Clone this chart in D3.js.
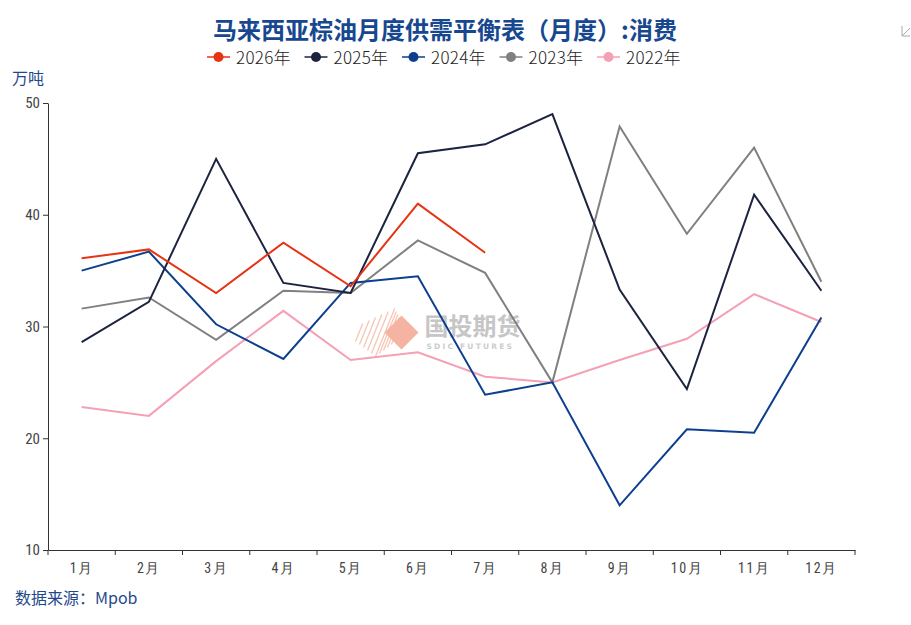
<!DOCTYPE html>
<html>
<head>
<meta charset="utf-8">
<script src="https://cdn.jsdelivr.net/npm/d3@7/dist/d3.min.js"></script>
<style>
  body { margin: 0; background: #fff; }
  svg { display: block; }
</style>
</head>
<body>
<div id="chart"></div>
<script>
// data
var months = ["1月", "2月", "3月", "4月", "5月", "6月", "7月", "8月", "9月", "10月", "11月", "12月"];
var yTicks = [10, 20, 30, 40, 50];

var y2026 = [36.1, 36.9, 33.0, 37.5, 33.6, 41.0, 36.6];
var y2025 = [28.6, 32.2, 45.0, 33.9, 33.0, 45.5, 46.3, 49.0, 33.3, 24.4, 41.8, 33.2];
var y2024 = [35.0, 36.7, 30.2, 27.1, 33.9, 34.5, 23.9, 25.0, 14.0, 20.8, 20.5, 30.8];
var y2023 = [31.6, 32.6, 28.8, 33.2, 33.0, 37.7, 34.8, 25.0, 47.9, 38.3, 46.0, 34.0];
var y2022 = [22.8, 22.0, 26.9, 31.4, 27.0, 27.7, 25.5, 25.0, 27.0, 28.9, 32.9, 30.4];

var seriesNames = ["2026年", "2025年", "2024年", "2023年", "2022年"];
var seriesColors = ["#e63312", "#1c2340", "#0d3f8f", "#808080", "#f4a0b5"];
var seriesValues = [y2026, y2025, y2024, y2023, y2022];

var W = 911, H = 625;
var margin = {top: 103, right: 56, bottom: 75, left: 48},
    width = W - margin.left - margin.right,
    height = H - margin.top - margin.bottom;

var narrow = "'Liberation Sans Narrow', 'Roboto Condensed', 'DejaVu Sans Condensed', sans-serif";

var root = d3.select("#chart").append("svg")
    .attr("width", W)
    .attr("height", H);

// title
root.append("text")
    .attr("x", 445).attr("y", 39)
    .attr("text-anchor", "middle")
    .style("font-family", "'Noto Sans CJK SC', sans-serif")
    .style("font-weight", "bold")
    .style("font-size", "24px")
    .style("fill", "#17478f")
    .text("马来西亚棕油月度供需平衡表（月度）:消费");

// legend
var legend = root.append("g").attr("transform", "translate(207,57)");
seriesNames.forEach(function(name, i) {
    var g = legend.append("g").attr("transform", "translate(" + (i * 97.5) + ",0)");
    g.append("line").attr("x1", 0).attr("x2", 23).attr("y1", 0).attr("y2", 0)
        .attr("stroke", seriesColors[i]).attr("stroke-width", 1.5);
    g.append("circle").attr("cx", 11.5).attr("cy", 0).attr("r", 5).attr("fill", seriesColors[i]);
    g.append("text").attr("x", 29).attr("y", 7)
        .style("font-family", "'Noto Sans CJK SC', sans-serif")
        .style("font-weight", "300")
        .style("font-size", "17px")
        .style("fill", "#222")
        .style("letter-spacing", "0.3px")
        .text(name);
});

// unit
root.append("text")
    .attr("x", 12).attr("y", 84)
    .style("font-family", "'Noto Sans CJK SC', sans-serif")
    .style("font-size", "16px")
    .style("fill", "#1f4a8a")
    .text("万吨");

// source
root.append("text")
    .attr("x", 15).attr("y", 604)
    .style("font-family", "'Noto Sans CJK SC', sans-serif")
    .style("font-size", "16px")
    .style("fill", "#1f4a8a")
    .text("数据来源：Mpob");

var svg = root.append("g")
    .attr("transform", "translate(" + margin.left + "," + margin.top + ")");

var x = d3.scaleBand()
    .domain(months)
    .range([0, width]);

var y = d3.scaleLinear()
    .domain([10, 50])
    .range([height, 0]);

// watermark
var wm = svg.append("g").attr("transform", "translate(" + (width / 2 - 36) + "," + (y(30) + 6) + ")");
for (var k = 0; k < 11; k++) {
    var h = 9 + (k < 5 ? k : 10 - k) * 3;
    wm.append("line")
        .attr("x1", -60 + k * 4).attr("y1", h)
        .attr("x2", -60 + k * 4 + h * 0.8).attr("y2", -h)
        .attr("stroke", "#f7c5b5").attr("stroke-width", 1.3);
}
wm.append("path")
    .attr("d", "M-31,0 L-14,-17 L3,0 L-14,17 Z")
    .attr("fill", "#f5b3a1");
wm.append("text")
    .attr("x", 9).attr("y", 2)
    .style("font-family", "'Noto Sans CJK SC', sans-serif")
    .style("font-weight", "bold")
    .style("font-size", "24px")
    .style("fill", "#c6c6c6")
    .text("国投期货");
wm.append("text")
    .attr("x", 11).attr("y", 16)
    .style("font-family", "'DejaVu Sans', sans-serif")
    .style("font-weight", "bold")
    .style("font-size", "7.5px")
    .style("letter-spacing", "2.2px")
    .style("fill", "#cccccc")
    .text("SDIC FUTURES");

// axes
var xAxis = svg.append("g")
    .attr("transform", "translate(0," + height + ")")
    .call(d3.axisBottom(x).tickSizeInner(0).tickSizeOuter(0));
xAxis.select(".domain").attr("stroke", "#333");
xAxis.selectAll(".tick text")
    .attr("dy", "1.45em")
    .style("font-family", narrow)
    .style("font-size", "14px")
    .style("fill", "#444")
    .style("letter-spacing", "1.5px");
// band boundary ticks
xAxis.selectAll(".bandtick")
    .data(d3.range(months.length + 1))
    .enter().append("line")
    .attr("class", "bandtick")
    .attr("x1", function(d) { return d * x.step(); })
    .attr("x2", function(d) { return d * x.step(); })
    .attr("y1", 0).attr("y2", 5)
    .attr("stroke", "#333");

var yAxis = svg.append("g")
    .call(d3.axisLeft(y).tickValues(yTicks).tickSize(5).tickSizeOuter(0));
yAxis.select(".domain").attr("stroke", "#333");
yAxis.selectAll(".tick line").attr("stroke", "#333");
yAxis.selectAll(".tick text")
    .style("font-family", narrow)
    .style("font-size", "15px")
    .style("fill", "#444");

// lines
var line = d3.line()
    .x(function(d, i) { return x(months[i]) + x.bandwidth() / 2; })
    .y(function(d) { return y(d); });

for (var s = seriesValues.length - 1; s >= 0; s--) {
    svg.append("path")
        .datum(seriesValues[s])
        .attr("fill", "none")
        .attr("stroke", seriesColors[s])
        .attr("stroke-width", 2)
        .attr("stroke-linejoin", "miter")
        .attr("d", line);
}

// small corner icon
root.append("path")
    .attr("d", "M902,26 L902,36 L910,36 M902,36 L910,28")
    .attr("fill", "none")
    .attr("stroke", "#aaa")
    .attr("stroke-width", 1);
</script>
</body>
</html>
